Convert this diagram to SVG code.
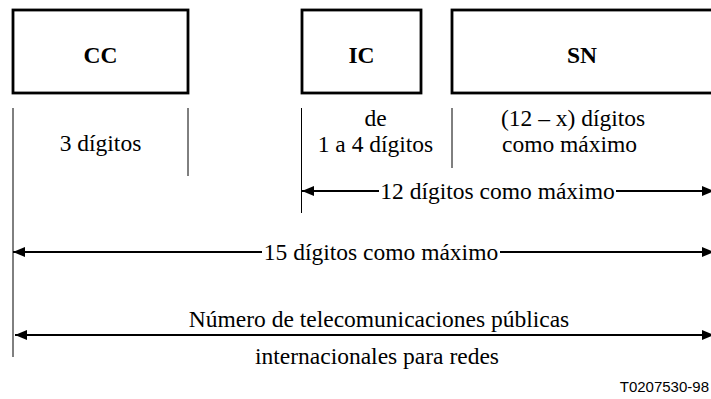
<svg xmlns="http://www.w3.org/2000/svg" width="711" height="399" viewBox="0 0 711 399">
<style>
.box{fill:#fff;stroke:#000;stroke-width:2.8}
.t{font-family:'Liberation Serif','Times New Roman',Times,serif;font-size:23.5px;fill:#000}
.b{font-weight:bold;text-anchor:middle}
.m{text-anchor:middle}
.v{stroke:#000;stroke-width:1}
.a{stroke:#000;stroke-width:2.2;fill:none}
</style>
<defs>
<marker id="ah" viewBox="0 0 12 10" refX="12" refY="5" markerWidth="12" markerHeight="10" markerUnits="userSpaceOnUse" orient="auto-start-reverse">
<path d="M0,0 L12,5 L0,10 Z" fill="#000"/>
</marker>
</defs>
<rect width="711" height="399" fill="#fff"/>
<g id="cc">
<rect class="box" x="13" y="10" width="175" height="83"/>
<text class="t b" x="100.5" y="63">CC</text>
</g>
<g id="ic">
<rect class="box" x="302" y="10" width="119" height="83"/>
<text class="t b" x="361.5" y="63">IC</text>
</g>
<g id="sn">
<rect class="box" x="452" y="10" width="270" height="83"/>
<text class="t b" x="582" y="63">SN</text>
</g>
<g id="labels">
<text class="t m" x="100.5" y="151">3 dígitos</text>
<text class="t m" x="375.5" y="126">de</text>
<text class="t m" x="375.5" y="152">1 a 4 dígitos</text>
<text class="t" x="501" y="126">(12 – x) dígitos</text>
<text class="t" x="502" y="152">como máximo</text>
<text class="t m" x="497.5" y="199">12 dígitos como máximo</text>
<text class="t m" x="381" y="260">15 dígitos como máximo</text>
<text class="t m" x="379" y="327">Número de telecomunicaciones públicas</text>
<text class="t m" x="377" y="364">internacionales para redes</text>
<text x="709" y="392" text-anchor="end" style="font-family:'Liberation Sans',Arial,sans-serif;font-size:15px;fill:#000">T0207530-98</text>
</g>
<g id="connectors">
<line class="v" x1="13" y1="108" x2="13" y2="357"/>
<line class="v" x1="188" y1="108" x2="188" y2="176"/>
<line class="v" x1="301.5" y1="108" x2="301.5" y2="213"/>
<line class="v" x1="452" y1="108" x2="452" y2="168"/>
<line class="a" x1="379" y1="191" x2="302" y2="191" marker-end="url(#ah)"/>
<line class="a" x1="616" y1="191" x2="714" y2="191" marker-end="url(#ah)"/>
<line class="a" x1="262" y1="252" x2="13" y2="252" marker-end="url(#ah)"/>
<line class="a" x1="500" y1="252" x2="714" y2="252" marker-end="url(#ah)"/>
<line class="a" x1="15" y1="335" x2="714" y2="335" marker-start="url(#ah)" marker-end="url(#ah)"/>
</g>
</svg>
